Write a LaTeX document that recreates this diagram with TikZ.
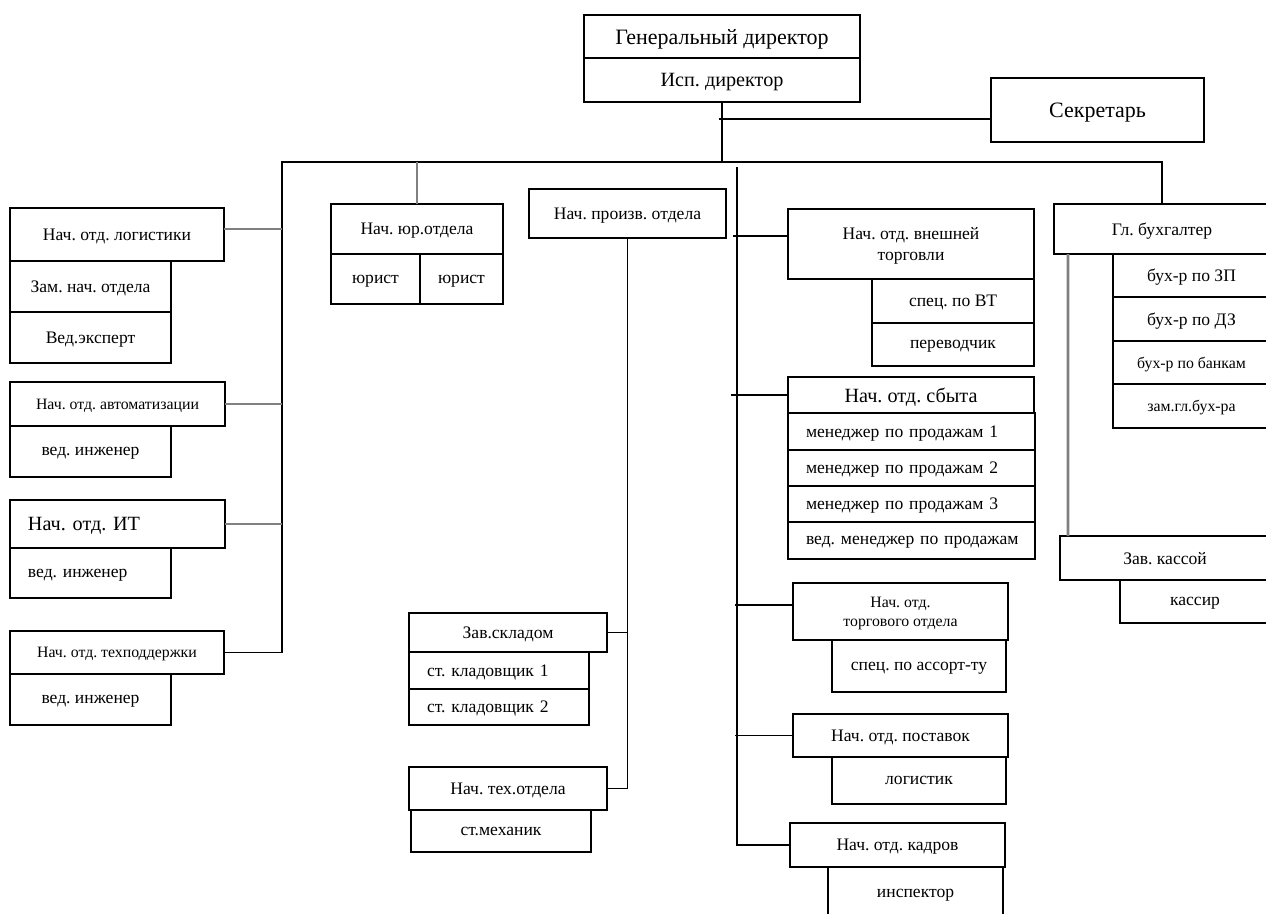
\documentclass[tikz,border=0pt]{standalone}
\usepackage{fontspec}
\setmainfont{Liberation Serif}
\frenchspacing
\usetikzlibrary{positioning,calc}

\begin{document}
\begin{tikzpicture}[
  x=0.02cm, y=-0.02cm,
  box/.style={draw, line width=0.9pt, inner sep=0pt, outer sep=0pt, text depth=0pt,
              align=center, font=\fontsize{10}{12}\selectfont},
  cell/.style n args={4}{box, at={(#1,#2)}, anchor=north west,
              minimum width={(#3-#1)*0.02cm}, minimum height={(#4-#2)*0.02cm}},
  lcell/.style n args={4}{cell={#1}{#2}{#3}{#4}, align=left, inner xsep=0pt,
              text width={(#3-#1)*0.02cm},
              execute at begin node={\hspace*{0.36cm}}},
  big/.style={font=\fontsize{12.5}{14}\selectfont},
  mid/.style={font=\fontsize{11.5}{13}\selectfont},
  small/.style={font=\fontsize{9}{11}\selectfont},
  line/.style={line width=0.8pt},
  gline/.style={line width=1.6pt, gray}
]
\useasboundingbox (0,0) rectangle (1266,913);
\fill[white] (0,0) rectangle (1266,913);

% top
\node[cell={584}{15}{860}{58}, big]  (gen) {Генеральный директор};
\node[cell={584}{58}{860}{102}, mid] (isp) {Исп. директор};
\node[cell={991}{78}{1204}{142}, big] (sec) {Секретарь};

% left column
\node[cell={10}{208}{224}{261}]  (log)  {Нач. отд. логистики};
\node[cell={10}{261}{171}{312}]  (logz) {Зам. нач. отдела};
\node[cell={10}{312}{171}{363}]  (loge) {Вед.эксперт};
\node[cell={10}{382}{225}{426}, small] (avt)  {Нач. отд. автоматизации};
\node[cell={10}{426}{171}{477}]  (avti) {вед. инженер};
\node[lcell={10}{500}{225}{548}, mid] (it)   {Нач. отд. ИТ};
\node[lcell={10}{548}{171}{598}] (iti)  {вед. инженер};
\node[cell={10}{631}{224}{674}, small] (tp)   {Нач. отд. техподдержки};
\node[cell={10}{674}{171}{725}]  (tpi)  {вед. инженер};

% legal
\node[cell={331}{204}{503}{254}] (jur)  {Нач. юр.отдела};
\node[cell={331}{254}{420}{304}] (jur1) {юрист};
\node[cell={420}{254}{503}{304}] (jur2) {юрист};

% production
\node[cell={529}{189}{726}{238}] (pr)   {Нач. произв. отдела};
\node[cell={409}{613}{607}{652}] (skl)  {Зав.складом};
\node[lcell={409}{652}{589}{689}] (skl1) {ст. кладовщик 1};
\node[lcell={409}{689}{589}{725}] (skl2) {ст. кладовщик 2};
\node[cell={409}{767}{607}{810}] (teh)  {Нач. тех.отдела};
\node[cell={411}{810}{591}{852}] (tehm) {ст.механик};

% commerce
\node[cell={788}{209}{1034}{279}] (vt)  {Нач. отд. внешней\\торговли};
\node[cell={872}{279}{1034}{323}] (vt1) {спец. по ВТ};
\node[cell={872}{323}{1034}{366}] (vt2) {переводчик};
\node[cell={788}{377}{1034}{413}, mid] (sb) {Нач. отд. сбыта};
\node[lcell={788}{413}{1035}{450}] (sb1) {менеджер по продажам 1};
\node[lcell={788}{450}{1035}{486}] (sb2) {менеджер по продажам 2};
\node[lcell={788}{486}{1035}{522}] (sb3) {менеджер по продажам 3};
\node[lcell={788}{522}{1035}{559}] (sb4) {вед. менеджер по продажам};
\node[cell={793}{583}{1008}{640}, small] (tr) {Нач. отд.\\торгового отдела};
\node[cell={832}{640}{1006}{692}] (tr1) {спец. по ассорт-ту};
\node[cell={793}{714}{1008}{757}] (pst)  {Нач. отд. поставок};
\node[cell={832}{757}{1006}{804}] (pst1) {логистик};
\node[cell={790}{823}{1005}{867}] (kdr)  {Нач. отд. кадров};
\node[cell={828}{867}{1003}{920}] (kdr1) {инспектор};

% accounting
\node[cell={1054}{204}{1270}{254}] (buh)  {Гл. бухгалтер};
\node[cell={1113}{254}{1270}{297}] (buh1) {бух-р по ЗП};
\node[cell={1113}{297}{1270}{341}] (buh2) {бух-р по ДЗ};
\node[cell={1113}{341}{1270}{384}, small] (buh3) {бух-р по банкам};
\node[cell={1113}{384}{1270}{428}, small] (buh4) {зам.гл.бух-ра};
\node[cell={1060}{536}{1270}{580}] (ksa)  {Зав. кассой};
\node[cell={1120}{580}{1270}{623}] (ksr)  {кассир};

% connectors
\coordinate (lb) at (282,162);
\coordinate (mt) at (737,167);
\draw[line] (isp.south) -- (isp.south |- lb);
\draw[line] ([yshift=-0.18cm]sec.west) -- ++(-272,0);
\draw[line] (tp.east) -| (lb) -| (buh.north);
\draw[gline] ([yshift=0.11cm]log.east) -- ++(58,0);
\draw[gline] (avt.east) -- (avt.east -| lb);
\draw[gline] (it.east) -- (it.east -| lb);
\draw[gline] (jur.north) -- (jur.north |- lb);

\draw[line] (pr.south) |- (teh.east);
\draw[line] (skl.east) -- (skl.east -| pr.south);

\draw[line] (mt) |- (kdr.west);
\draw[line] ([yshift=0.16cm]vt.west) -- ++(-55,0);
\draw[line] (sb.west) -- ++(-57,0);
\draw[line] ([yshift=0.13cm]tr.west) -- ++(-58,0);
\draw[line] (pst.west) -- ++(-58,0);

\draw[gline] ([xshift=0.28cm]buh.south west) -- ([xshift=0.16cm]ksa.north west);
\end{tikzpicture}
\end{document}
